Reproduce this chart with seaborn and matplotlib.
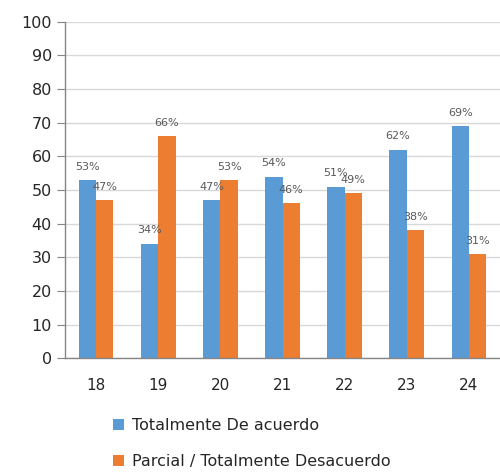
import pandas as pd
import numpy as np
import matplotlib.pyplot as plt
import seaborn as sns

# data
edades = ["18", "19", "20", "21", "22", "23", "24"]
acuerdo = [53, 34, 47, 54, 51, 62, 69]
desacuerdo = [47, 66, 53, 46, 49, 38, 31]
serie_1 = "Totalmente De acuerdo"
serie_2 = "Parcial / Totalmente Desacuerdo"

df = pd.DataFrame({
    "edad": edades * 2,
    "valor": acuerdo + desacuerdo,
    "serie": [serie_1] * len(edades) + [serie_2] * len(edades),
})

sns.set_style("white")
plt.rcParams["font.family"] = ["DejaVu Sans"]

fig = plt.figure(figsize=(5, 4.75), dpi=100)
ax = fig.add_axes([0.13, 0.246, 0.87, 0.708])

sns.barplot(
    data=df, x="edad", y="valor", hue="serie",
    palette=["#5B9BD5", "#ED7D31"], saturation=1,
    width=0.56, gap=0, linewidth=0, ax=ax, legend=True,
)

# labels over bars
for cont in ax.containers:
    labels = [f"{int(v)}%" for v in cont.datavalues]
    ax.bar_label(cont, labels=labels, padding=6, fontsize=8, color="#595959")

ax.set_ylim(0, 100)
ax.set_yticks(range(0, 101, 10))
ax.set_xlim(-0.5, 6.45)
ax.set_xlabel("")
ax.set_ylabel("")

ax.yaxis.grid(True, color="#D9D9D9", linewidth=1)
ax.set_axisbelow(True)

for s in ["top", "right"]:
    ax.spines[s].set_visible(False)
for s in ["left", "bottom"]:
    ax.spines[s].set_color("#868686")
    ax.spines[s].set_linewidth(1)

# ticks between groups
ax.set_xticks(np.arange(-0.5, 7, 1), minor=True)
ax.tick_params(axis="x", which="major", length=0, pad=14, labelsize=11, colors="#262626")
ax.tick_params(axis="x", which="minor", length=6, color="#868686", direction="out")
ax.tick_params(axis="y", length=6, color="#868686", direction="out", labelsize=11.5, colors="#262626", left=True)

leg = ax.legend(
    loc="upper left", bbox_to_anchor=(0.08, -0.14), ncol=1, frameon=False,
    fontsize=11.5, labelspacing=1.3, handlelength=0.7, handleheight=0.7,
    handletextpad=0.5, borderpad=0.3,
)
for t in leg.get_texts():
    t.set_color("#262626")

plt.savefig("out.png", dpi=100)
